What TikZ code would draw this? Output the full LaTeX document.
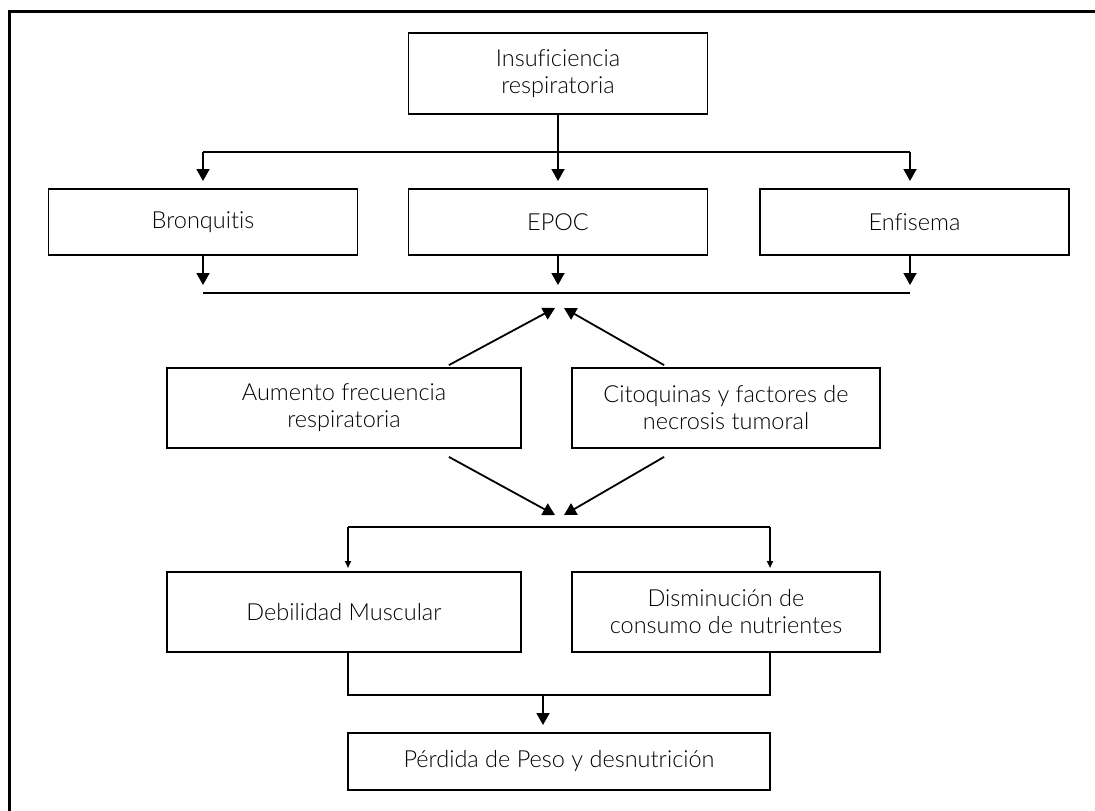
\documentclass[tikz,border=0pt]{standalone}
\usepackage{fontspec}
\setmainfont{Lato Light}[Ligatures=NoCommon]
\usetikzlibrary{arrows.meta,calc}
\tikzset{
  box/.style={draw, line width=1.8pt, align=center, inner sep=0pt,
    font=\fontsize{23.5}{27}\selectfont},
  ln/.style={line width=1.8pt},
  arr/.style={ln, -{Triangle[length=12pt,width=13pt]}},
  sarr/.style={ln, -{Triangle[length=7pt,width=6pt]}},
}
\begin{document}
\begin{tikzpicture}[x=1pt,y=-1pt]
\useasboundingbox (0,0) rectangle (1095,811);
\draw[line width=3pt] (9,820) -- (9,11.5) -- (1100,11.5);

\node[box, minimum width=299pt, minimum height=81pt] (top) at (558,73.5) {Insuficiencia\\respiratoria};
\node[box, minimum width=309pt, minimum height=66pt] (bron) at (203,222) {Bronquitis};
\node[box, minimum width=299pt, minimum height=66pt] (epoc) at (558,222) {EPOC};
\node[box, minimum width=309pt, minimum height=66pt] (enf) at (914.5,222) {Enfisema};
\node[box, minimum width=354pt, minimum height=80pt] (aum) at (344,408) {Aumento frecuencia\\respiratoria};
\node[box, minimum width=308pt, minimum height=80pt] (cito) at (726,408) {Citoquinas y factores de\\necrosis tumoral};
\node[box, minimum width=354pt, minimum height=80pt] (deb) at (344,612) {Debilidad Muscular};
\node[box, minimum width=308pt, minimum height=80pt] (dis) at (726,612) {Disminución de\\consumo de nutrientes};
\node[box, minimum width=422pt, minimum height=57pt] (perd) at (559,761.5) {Pérdida de Peso y desnutrición};

% top to row 2
\coordinate (h1l) at (203,152);
\coordinate (h1r) at (910,152);
\coordinate (b1) at (203,181);
\coordinate (b2) at (558,181);
\coordinate (b3) at (910,181);
\draw[ln] (h1l) -- (h1r);
\draw[arr] (top.south) -- (b2);
\draw[arr] (h1l) -- (b1);
\draw[arr] (h1r) -- (b3);

% row 2 to collector
\coordinate (h2l) at (203,293);
\coordinate (h2r) at (910,293);
\coordinate (c1) at (203,285);
\coordinate (c2) at (558,285);
\coordinate (c3) at (910,285);
\draw[ln] (h2l) -- (h2r);
\draw[arr] (bron.south) -- (c1);
\draw[arr] (epoc.south) -- (c2);
\draw[arr] ($(enf.south)+(-4.5,0)$) -- (c3);

% diagonals up
\coordinate (u1) at (555,308);
\coordinate (u2) at (564,308);
\draw[arr] ($(aum.north east)+(-73,-2)$) -- (u1);
\draw[arr] ($(cito.north west)+(93,-2)$) -- (u2);

% diagonals down
\coordinate (d1) at (555,515);
\coordinate (d2) at (564,515);
\draw[arr] ($(aum.south east)+(-73,8)$) -- (d1);
\draw[arr] ($(cito.south west)+(93,8)$) -- (d2);

% split to row 4
\coordinate (h3l) at (348,527);
\coordinate (h3r) at (770,527);
\coordinate (e1) at (348,568);
\coordinate (e2) at (770,568);
\draw[ln] (h3l) -- (h3r);
\draw[sarr] (h3l) -- (e1);
\draw[sarr] (h3r) -- (e2);

% merge to bottom
\coordinate (m1) at (348,695);
\coordinate (m2) at (770,695);
\coordinate (mm) at (543,695);
\coordinate (mt) at (543,725);
\draw[ln] (deb.south -| m1) -- (m1) -- (m2) -- (dis.south -| m2);
\draw[arr] (mm) -- (mt);
\end{tikzpicture}
\end{document}
